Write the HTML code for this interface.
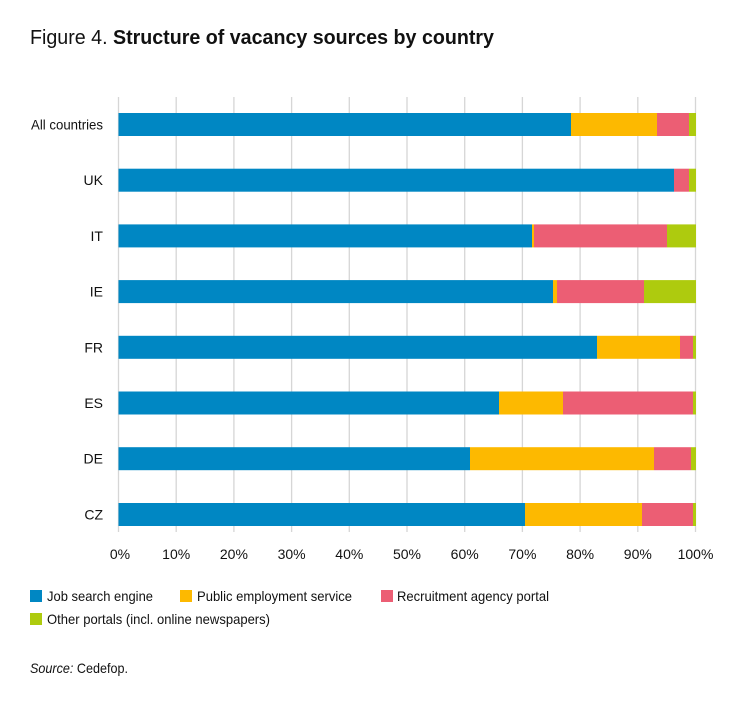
<!DOCTYPE html>
<html><head><style>
body{margin:0;background:#fff;width:750px;height:710px;overflow:hidden;font-family:"Liberation Sans",Arial,sans-serif;}
</style></head><body>
<svg width="750" height="710" xmlns="http://www.w3.org/2000/svg" font-family="Liberation Sans, Arial, sans-serif">
<text x="30" y="44" font-size="20" fill="#111" textLength="464" lengthAdjust="spacingAndGlyphs">Figure 4. <tspan font-weight="bold">Structure of vacancy sources by country</tspan></text>
<g stroke="#d6d6d6" stroke-width="1.3">
<line x1="118.5" y1="97" x2="118.5" y2="532"/><line x1="176.2" y1="97" x2="176.2" y2="532"/><line x1="233.9" y1="97" x2="233.9" y2="532"/><line x1="291.6" y1="97" x2="291.6" y2="532"/><line x1="349.3" y1="97" x2="349.3" y2="532"/><line x1="407" y1="97" x2="407" y2="532"/><line x1="464.7" y1="97" x2="464.7" y2="532"/><line x1="522.4" y1="97" x2="522.4" y2="532"/><line x1="580.1" y1="97" x2="580.1" y2="532"/><line x1="637.8" y1="97" x2="637.8" y2="532"/><line x1="695.5" y1="97" x2="695.5" y2="532"/>
</g>
<g>
<rect x="118.5" y="113" width="452.5" height="23" fill="#0087C3"/><rect x="571" y="113" width="86" height="23" fill="#FDB900"/><rect x="657" y="113" width="32" height="23" fill="#EC5E74"/><rect x="689" y="113" width="7" height="23" fill="#AECB0E"/>
<rect x="118.5" y="168.7" width="555.5" height="23" fill="#0087C3"/><rect x="674" y="168.7" width="15" height="23" fill="#EC5E74"/><rect x="689" y="168.7" width="7" height="23" fill="#AECB0E"/>
<rect x="118.5" y="224.4" width="413.5" height="23" fill="#0087C3"/><rect x="532" y="224.4" width="2" height="23" fill="#FDB900"/><rect x="534" y="224.4" width="133" height="23" fill="#EC5E74"/><rect x="667" y="224.4" width="29" height="23" fill="#AECB0E"/>
<rect x="118.5" y="280.1" width="434.5" height="23" fill="#0087C3"/><rect x="553" y="280.1" width="4" height="23" fill="#FDB900"/><rect x="557" y="280.1" width="87" height="23" fill="#EC5E74"/><rect x="644" y="280.1" width="52" height="23" fill="#AECB0E"/>
<rect x="118.5" y="335.8" width="478.5" height="23" fill="#0087C3"/><rect x="597" y="335.8" width="83" height="23" fill="#FDB900"/><rect x="680" y="335.8" width="13" height="23" fill="#EC5E74"/><rect x="693" y="335.8" width="3" height="23" fill="#AECB0E"/>
<rect x="118.5" y="391.5" width="380.5" height="23" fill="#0087C3"/><rect x="499" y="391.5" width="64" height="23" fill="#FDB900"/><rect x="563" y="391.5" width="130" height="23" fill="#EC5E74"/><rect x="693" y="391.5" width="3" height="23" fill="#AECB0E"/>
<rect x="118.5" y="447.2" width="351.5" height="23" fill="#0087C3"/><rect x="470" y="447.2" width="184" height="23" fill="#FDB900"/><rect x="654" y="447.2" width="37" height="23" fill="#EC5E74"/><rect x="691" y="447.2" width="5" height="23" fill="#AECB0E"/>
<rect x="118.5" y="503" width="406.5" height="23" fill="#0087C3"/><rect x="525" y="503" width="117" height="23" fill="#FDB900"/><rect x="642" y="503" width="51" height="23" fill="#EC5E74"/><rect x="693" y="503" width="3" height="23" fill="#AECB0E"/>
</g>
<g font-size="14" fill="#111" text-anchor="end">
<text x="103" y="129.5" textLength="72" lengthAdjust="spacingAndGlyphs">All countries</text><text x="103" y="185.2">UK</text><text x="103" y="240.9">IT</text><text x="103" y="296.6">IE</text><text x="103" y="352.3">FR</text><text x="103" y="408">ES</text><text x="103" y="463.7">DE</text><text x="103" y="519.5">CZ</text>
</g>
<g font-size="14" fill="#111" text-anchor="middle">
<text x="120" y="559">0%</text><text x="176.2" y="559">10%</text><text x="233.9" y="559">20%</text><text x="291.6" y="559">30%</text><text x="349.3" y="559">40%</text><text x="407" y="559">50%</text><text x="464.7" y="559">60%</text><text x="522.4" y="559">70%</text><text x="580.1" y="559">80%</text><text x="637.8" y="559">90%</text><text x="695.5" y="559">100%</text>
</g>
<g font-size="14" fill="#111">
<rect x="30" y="590" width="12" height="12" fill="#0087C3"/><text x="47" y="601" textLength="106" lengthAdjust="spacingAndGlyphs">Job search engine</text>
<rect x="180" y="590" width="12" height="12" fill="#FDB900"/><text x="197" y="601" textLength="155" lengthAdjust="spacingAndGlyphs">Public employment service</text>
<rect x="381" y="590" width="12" height="12" fill="#EC5E74"/><text x="397" y="601" textLength="152" lengthAdjust="spacingAndGlyphs">Recruitment agency portal</text>
<rect x="30" y="613" width="12" height="12" fill="#AECB0E"/><text x="47" y="624" textLength="223" lengthAdjust="spacingAndGlyphs">Other portals (incl. online newspapers)</text>
<text x="30" y="673" textLength="98" lengthAdjust="spacingAndGlyphs"><tspan font-style="italic">Source:</tspan> Cedefop.</text>
</g>
</svg>
</body></html>
